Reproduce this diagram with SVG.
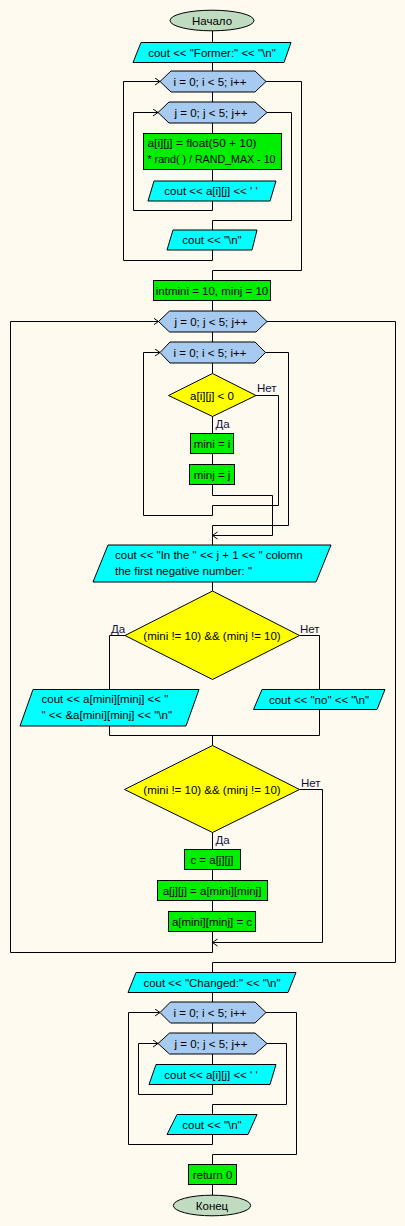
<svg xmlns="http://www.w3.org/2000/svg" width="405" height="1226" viewBox="0 0 405 1226">
<style>
text{font-family:"Liberation Sans",Arial,sans-serif;font-size:11.5px;fill:#000}
.m{text-anchor:middle}
.lbl{fill:#101040}
.io{fill:#00ffff;stroke:#000;stroke-width:1}
.pr{fill:#00ee00;stroke:#000;stroke-width:1}
.lp{fill:#a6caf0;stroke:#000;stroke-width:1}
.dc{fill:#ffff00;stroke:#000;stroke-width:1}
.tm{fill:#c0dcc0;stroke:#000;stroke-width:1}
.c{fill:none;stroke:#000;stroke-width:1}
.a{marker-end:url(#arr)}
</style>
<defs>
<marker id="arr" markerUnits="userSpaceOnUse" markerWidth="8" markerHeight="10" refX="5" refY="4" orient="auto">
<path d="M0,0.5 L5,4 L0,7.5" fill="none" stroke="#000" stroke-width="1"/>
</marker>
</defs>
<rect x="0" y="0" width="405" height="1226" fill="#fffaf0"/>

<g id="connectors">
<path class="c" d="M212.5,31 V42 M212.5,62 V71 M212.5,92 V102 M212.5,123 V133.5 M212.5,169.5 V181"/>
<path class="c a" d="M212.5,201 V210.5 H133.5 V112.5 H158"/>
<path class="c" d="M267,112.5 H291.5 V220.5 H212.5 V230"/>
<path class="c a" d="M212.5,250 V260.5 H123.5 V81.5 H160"/>
<path class="c" d="M266,81.5 H301.5 V270.5 H212.5 V280.5"/>
<path class="c" d="M212.5,300.5 V311 M212.5,332 V342 M212.5,363 V373.5 M212.5,416.5 V433.5 M212.5,453.5 V464.5"/>
<path class="c a" d="M256,395.5 H278.5 V505.5 H212.5 V515.5 H143.5 V352.5 H160"/>
<path class="c a" d="M212.5,484.5 V495.5 H272.5 V535.5 H212.5"/>
<path class="c" d="M265.5,352.5 H288.5 V525.5 H212.5 V545"/>
<path class="c" d="M212.5,582 V591"/>
<path class="c" d="M125,635.5 H109.5 V689.5 M299.5,635.5 H319.5 V689.5"/>
<path class="c" d="M109.5,726 V735.5 H319.5 V709.5 M212.5,735.5 V745.5"/>
<path class="c" d="M212.5,832.5 V849.5 M212.5,869.5 V880.5 M212.5,900.5 V911.5"/>
<path class="c a" d="M212.5,931.5 V952.5 H10.5 V321.5 H158.5"/>
<path class="c a" d="M299.5,789.5 H322.5 V942.5 H212.5"/>
<path class="c" d="M267,321.5 H395.5 V962.5 H212.5 V972.5"/>
<path class="c" d="M212.5,992.5 V1002 M212.5,1023 V1033 M212.5,1054 V1064.5"/>
<path class="c a" d="M212.5,1084.5 V1094.5 H138.5 V1043.5 H158"/>
<path class="c" d="M267,1043.5 H286.5 V1104.5 H212.5 V1114.5"/>
<path class="c a" d="M212.5,1134.5 V1144.5 H128.5 V1012.5 H160"/>
<path class="c" d="M266,1012.5 H296.5 V1154.5 H212.5 V1164.5"/>
<path class="c" d="M212.5,1184.5 V1195"/>
</g>

<g id="n_start"><ellipse class="tm" cx="212" cy="20.5" rx="42" ry="10.3"/><text class="m" x="212" y="24.5">Начало</text></g>
<g id="n_out1"><polygon class="io" points="141,42.5 291,42.5 284,62.5 133,62.5"/><text class="m" x="212" y="56.5">cout &lt;&lt; "Former:" &lt;&lt; "\n"</text></g>
<g id="n_loop_i1"><polygon class="lp" points="160,81.5 171,71 255,71 266,81.5 255,92 171,92"/><text class="m" x="210" y="85.5">i = 0; i &lt; 5; i++</text></g>
<g id="n_loop_j1"><polygon class="lp" points="158,112.5 169,102 255,102 267,112.5 255,123 169,123"/><text class="m" x="211" y="116.5">j = 0; j &lt; 5; j++</text></g>
<g id="n_fill"><rect class="pr" x="143.5" y="133.5" width="138" height="36"/><text x="147.5" y="147" textLength="109" lengthAdjust="spacingAndGlyphs">a[i][j] = float(50 + 10)</text><text x="147.5" y="163" textLength="128" lengthAdjust="spacingAndGlyphs">* rand( ) / RAND_MAX - 10</text></g>
<g id="n_out2"><polygon class="io" points="154,181 276,181 270,201 148,201"/><text class="m" x="211" y="195">cout &lt;&lt; a[i][j] &lt;&lt; ' '</text></g>
<g id="n_out3"><polygon class="io" points="173,230 257,230 252,250 167,250"/><text class="m" x="212" y="244">cout &lt;&lt; "\n"</text></g>
<g id="n_init"><rect class="pr" x="153.5" y="280.5" width="117" height="20"/><text class="m" x="212" y="294.5">intmini = 10, minj = 10</text></g>
<g id="n_loop_j2"><polygon class="lp" points="158.5,321.5 169.5,311 256,311 267,321.5 256,332 169.5,332"/><text class="m" x="211" y="325.5">j = 0; j &lt; 5; j++</text></g>
<g id="n_loop_i2"><polygon class="lp" points="160,352.5 170,342 255,342 265.5,352.5 255,363 170,363"/><text class="m" x="210" y="356.5">i = 0; i &lt; 5; i++</text></g>
<g id="n_cond1"><polygon class="dc" points="212.5,373.5 256,395.5 212.5,416.5 168.5,395.5"/><text class="m" x="212" y="399.5">a[i][j] &lt; 0</text><text class="lbl" x="257" y="392">Нет</text><text class="lbl" x="215.5" y="428">Да</text></g>
<g id="n_mini"><rect class="pr" x="190.5" y="433.5" width="43" height="20"/><text class="m" x="212" y="447.5">mini = i</text></g>
<g id="n_minj"><rect class="pr" x="189.5" y="464.5" width="45" height="20"/><text class="m" x="212" y="478.5">minj = j</text></g>
<g id="n_out4"><polygon class="io" points="108,545 331,545 316,582 93,582"/><text x="115" y="559">cout &lt;&lt; "In the " &lt;&lt; j + 1 &lt;&lt; " colomn</text><text x="115" y="575">the first negative number: "</text></g>
<g id="n_cond2"><polygon class="dc" points="212.5,591 299.5,635.5 212.5,679.5 125,635.5"/><text class="m" x="212" y="639.5">(mini != 10) &amp;&amp; (minj != 10)</text><text class="lbl" x="111" y="633">Да</text><text class="lbl" x="300" y="633">Нет</text></g>
<g id="n_out5"><polygon class="io" points="33,689.5 199,689.5 186,726 20,726"/><text x="41.5" y="703">cout &lt;&lt; a[mini][minj] &lt;&lt; "</text><text x="41.5" y="719">" &lt;&lt; &amp;a[mini][minj] &lt;&lt; "\n"</text></g>
<g id="n_out6"><polygon class="io" points="262,689.5 385,689.5 377,709.5 253.5,709.5"/><text class="m" x="319" y="703.5">cout &lt;&lt; "no" &lt;&lt; "\n"</text></g>
<g id="n_cond3"><polygon class="dc" points="212.5,745.5 299.5,789.5 212.5,832.5 124.5,789.5"/><text class="m" x="212" y="793.5">(mini != 10) &amp;&amp; (minj != 10)</text><text class="lbl" x="301" y="786.5">Нет</text><text class="lbl" x="215.5" y="844">Да</text></g>
<g id="n_c"><rect class="pr" x="184.5" y="849.5" width="56" height="20"/><text class="m" x="212" y="863.5">c = a[j][j]</text></g>
<g id="n_swap1"><rect class="pr" x="157.5" y="880.5" width="110" height="20"/><text class="m" x="212" y="894.5">a[j][j] = a[mini][minj]</text></g>
<g id="n_swap2"><rect class="pr" x="168.5" y="911.5" width="87" height="20"/><text class="m" x="212" y="925.5">a[mini][minj] = c</text></g>
<g id="n_out7"><polygon class="io" points="136,972.5 296,972.5 288,992.5 128,992.5"/><text class="m" x="212" y="986.5">cout &lt;&lt; "Changed:" &lt;&lt; "\n"</text></g>
<g id="n_loop_i3"><polygon class="lp" points="160,1012.5 170.5,1002 255,1002 266,1012.5 255,1023 170.5,1023"/><text class="m" x="210" y="1016.5">i = 0; i &lt; 5; i++</text></g>
<g id="n_loop_j3"><polygon class="lp" points="158,1043.5 169.5,1033 255,1033 267,1043.5 255,1054 169.5,1054"/><text class="m" x="211" y="1047.5">j = 0; j &lt; 5; j++</text></g>
<g id="n_out8"><polygon class="io" points="156,1064.5 276,1064.5 270,1084.5 149,1084.5"/><text class="m" x="211" y="1078.5">cout &lt;&lt; a[i][j] &lt;&lt; ' '</text></g>
<g id="n_out9"><polygon class="io" points="177,1114.5 257,1114.5 248,1134.5 167,1134.5"/><text class="m" x="212" y="1128.5">cout &lt;&lt; "\n"</text></g>
<g id="n_ret"><rect class="pr" x="188.5" y="1164.5" width="48" height="20"/><text class="m" x="212.5" y="1178.5">return 0</text></g>
<g id="n_end"><ellipse class="tm" cx="212" cy="1205.5" rx="38.7" ry="10.3"/><text class="m" x="212" y="1209.5">Конец</text></g>
</svg>
